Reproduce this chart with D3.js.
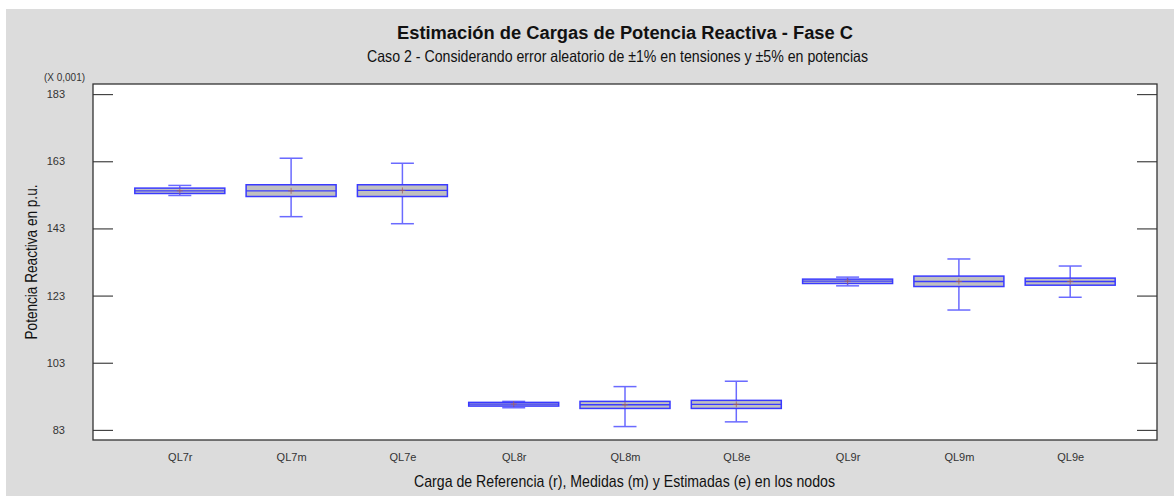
<!DOCTYPE html>
<html>
<head>
<meta charset="utf-8">
<script src="https://cdn.jsdelivr.net/npm/d3@7"></script>
<style>
  html, body { margin: 0; padding: 0; background: #ffffff; }
  svg { display: block; }
</style>
</head>
<body>
<svg id="chart" width="1174" height="496"></svg>
<script>
// Box-plot summaries (values in units of 0.001 p.u.)
const categories = ["QL7r", "QL7m", "QL7e", "QL8r", "QL8m", "QL8e", "QL9r", "QL9m", "QL9e"];
const whiskerLow  = [152.8, 146.5, 144.4, 89.6, 84.0, 85.4, 125.9, 118.7, 122.5];
const q1          = [153.4, 152.5, 152.5, 90.1, 89.4, 89.4, 126.6, 125.7, 126.1];
const medians     = [154.2, 154.2, 154.3, 90.7, 90.5, 90.6, 127.3, 127.2, 127.2];
const means       = [154.2, 154.2, 154.3, 90.7, 90.5, 90.6, 127.3, 127.2, 127.2];
const q3          = [155.0, 156.0, 156.0, 91.2, 91.5, 91.8, 127.9, 128.8, 128.2];
const whiskerHigh = [155.8, 163.9, 162.4, 91.5, 95.9, 97.5, 128.5, 133.9, 131.8];
const yTicks = [83, 103, 123, 143, 163, 183];

const titleText = "Estimación de Cargas de Potencia Reactiva - Fase C";
const subtitleText = "Caso 2 - Considerando error aleatorio de ±1% en tensiones y ±5% en potencias";
const xTitle = "Carga de Referencia (r), Medidas (m) y Estimadas (e) en los nodos";
const yTitle = "Potencia Reactiva en p.u.";
const scaleNote = "(X 0,001)";

const boxes = categories.map((c, i) => ({
  cat: c, lo: whiskerLow[i], q1: q1[i], med: medians[i], mean: means[i], q3: q3[i], hi: whiskerHigh[i]
}));

const svg = d3.select("#chart");
const W = 1174, H = 496;
const plot = { left: 93, top: 84, right: 1157, bottom: 440 };
const sans = "Liberation Sans, Arial, sans-serif";

// panel background
svg.append("rect").attr("x", 6).attr("y", 9).attr("width", W - 6).attr("height", H - 9)
  .attr("fill", "#dcdcdc");

const x = d3.scalePoint().domain(categories).range([plot.left, plot.right]).padding(0.78);
const y = d3.scaleLinear().domain([80, 186]).range([plot.bottom, plot.top]);

const boxW = 90, capW = 23;

// plot area
svg.append("rect")
  .attr("x", plot.left).attr("y", plot.top)
  .attr("width", plot.right - plot.left).attr("height", plot.bottom - plot.top)
  .attr("fill", "#ffffff");

// axes: inward ticks on left and right
const leftAxis = d3.axisLeft(y).tickValues(yTicks).tickSize(-20).tickPadding(28).tickFormat(d3.format("d"));
const gl = svg.append("g").attr("transform", `translate(${plot.left},0)`).call(leftAxis);
gl.select(".domain").remove();
gl.selectAll(".tick line").attr("stroke", "#444").attr("stroke-width", 1.2);
gl.selectAll(".tick text").attr("fill", "#333").attr("font-family", sans).attr("font-size", 11);

const rightAxis = d3.axisRight(y).tickValues(yTicks).tickSize(-20).tickFormat("");
const gr = svg.append("g").attr("transform", `translate(${plot.right},0)`).call(rightAxis);
gr.select(".domain").remove();
gr.selectAll(".tick line").attr("stroke", "#444").attr("stroke-width", 1.2);

const bottomAxis = d3.axisBottom(x).tickSize(0).tickPadding(13);
const gb = svg.append("g").attr("transform", `translate(0,${plot.bottom})`).call(bottomAxis);
gb.select(".domain").remove();
gb.selectAll(".tick text").attr("fill", "#333").attr("font-family", sans).attr("font-size", 11);

// boxes
const g = svg.append("g");
const blue = "#3a3aff";
const whiskerBlue = "#6a6aff";

const bx = g.selectAll("g.box").data(boxes).join("g").attr("class", "box");

bx.append("line")
  .attr("x1", d => x(d.cat)).attr("x2", d => x(d.cat))
  .attr("y1", d => y(d.hi)).attr("y2", d => y(d.q3))
  .attr("stroke", whiskerBlue).attr("stroke-width", 1.5);
bx.append("line")
  .attr("x1", d => x(d.cat)).attr("x2", d => x(d.cat))
  .attr("y1", d => y(d.q1)).attr("y2", d => y(d.lo))
  .attr("stroke", whiskerBlue).attr("stroke-width", 1.5);
bx.append("line")
  .attr("x1", d => x(d.cat) - capW / 2).attr("x2", d => x(d.cat) + capW / 2)
  .attr("y1", d => y(d.hi)).attr("y2", d => y(d.hi))
  .attr("stroke", whiskerBlue).attr("stroke-width", 1.5);
bx.append("line")
  .attr("x1", d => x(d.cat) - capW / 2).attr("x2", d => x(d.cat) + capW / 2)
  .attr("y1", d => y(d.lo)).attr("y2", d => y(d.lo))
  .attr("stroke", whiskerBlue).attr("stroke-width", 1.5);

bx.append("rect")
  .attr("x", d => x(d.cat) - boxW / 2).attr("width", boxW)
  .attr("y", d => y(d.q3)).attr("height", d => y(d.q1) - y(d.q3))
  .attr("fill", "#c0c0c0").attr("stroke", blue).attr("stroke-width", 1.5);

bx.append("line")
  .attr("x1", d => x(d.cat) - boxW / 2).attr("x2", d => x(d.cat) + boxW / 2)
  .attr("y1", d => y(d.med)).attr("y2", d => y(d.med))
  .attr("stroke", blue).attr("stroke-width", 1.3);

// mean markers
bx.append("path")
  .attr("d", d => `M${x(d.cat) - 3},${y(d.mean)}H${x(d.cat) + 3}M${x(d.cat)},${y(d.mean) - 3}V${y(d.mean) + 3}`)
  .attr("stroke", "#a06060").attr("stroke-width", 1).attr("fill", "none").attr("opacity", 0.8);

// plot frame
svg.append("rect")
  .attr("x", plot.left).attr("y", plot.top)
  .attr("width", plot.right - plot.left).attr("height", plot.bottom - plot.top)
  .attr("fill", "none").attr("stroke", "#333").attr("stroke-width", 1.3);

// titles (condensed horizontally to the narrow face of the original)
svg.append("text").attr("x", 625).attr("y", 39).attr("text-anchor", "middle")
  .attr("font-family", sans).attr("font-weight", "bold")
  .attr("font-size", 18).attr("fill", "#111")
  .attr("textLength", 456).attr("lengthAdjust", "spacingAndGlyphs").text(titleText);
svg.append("text").attr("x", 617.5).attr("y", 62).attr("text-anchor", "middle")
  .attr("font-family", sans).attr("font-size", 16.5).attr("fill", "#111")
  .attr("textLength", 501).attr("lengthAdjust", "spacingAndGlyphs").text(subtitleText);
svg.append("text").attr("x", 624.5).attr("y", 487).attr("text-anchor", "middle")
  .attr("font-family", sans).attr("font-size", 17).attr("fill", "#111")
  .attr("textLength", 421).attr("lengthAdjust", "spacingAndGlyphs").text(xTitle);
svg.append("text").attr("transform", `translate(37,${(plot.top + plot.bottom) / 2}) rotate(-90)`)
  .attr("text-anchor", "middle")
  .attr("font-family", sans).attr("font-size", 16).attr("fill", "#111")
  .attr("textLength", 155).attr("lengthAdjust", "spacingAndGlyphs").text(yTitle);
svg.append("text").attr("x", 85).attr("y", 81).attr("text-anchor", "end")
  .attr("font-family", sans).attr("font-size", 11).attr("fill", "#333")
  .attr("textLength", 41).attr("lengthAdjust", "spacingAndGlyphs").text(scaleNote);
</script>
</body>
</html>
